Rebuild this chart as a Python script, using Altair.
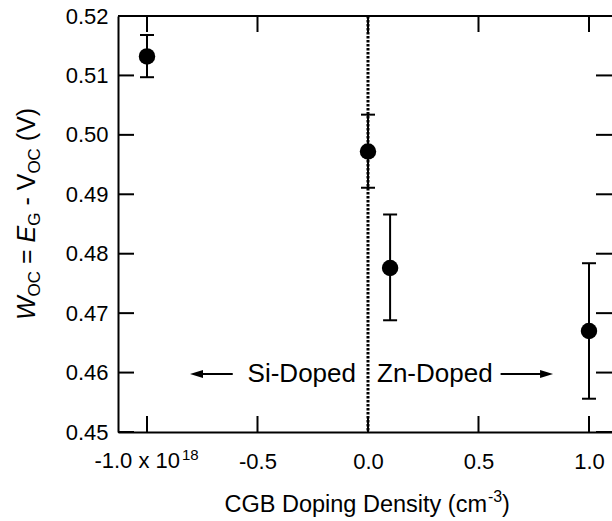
import altair as alt
import pandas as pd

# ---------------- data ----------------
x_density = [-1.0, 0.0, 0.1, 1.0]          # CGB doping density (x 1e18 cm^-3)
w_oc = [0.5132, 0.4972, 0.4776, 0.4670]     # W_OC (V)
w_oc_hi = [0.5168, 0.5034, 0.4866, 0.4784]  # upper error
w_oc_lo = [0.5097, 0.4911, 0.4688, 0.4556]  # lower error
x_ticks = [-1.0, -0.5, 0.0, 0.5, 1.0]
y_ticks = [0.45, 0.46, 0.47, 0.48, 0.49, 0.50, 0.51, 0.52]
first_x_label = ["-1.0 x 10", "18"]
x_title_parts = ["CGB Doping Density (cm", "-3", ")"]
annot_left = ["Si-Doped"]
annot_right = ["Zn-Doped"]

# ---------------- layout ----------------
W, H = 494, 416
XMIN, XMAX = -1.1312, 1.1041
FONT = "Liberation Sans"
TICK_FS = 22
SUB_FS = 16

df = pd.DataFrame({"x": x_density, "y": w_oc, "hi": w_oc_hi, "lo": w_oc_lo})
xs = alt.Scale(domain=[XMIN, XMAX], nice=False, zero=False)
ys = alt.Scale(domain=[0.45, 0.52], nice=False, zero=False)

x_axis = alt.Axis(values=x_ticks,
                  labelExpr="datum.value == -1 ? '' : (datum.value < 0 ? '-' : '') + format(abs(datum.value), '.1f')",
                  ticks=False, grid=False, domain=True, domainColor="black", domainWidth=2,
                  labelFontSize=TICK_FS, labelFont=FONT, labelColor="black",
                  labelBaseline="alphabetic", labelPadding=36, labelFlush=False,
                  labelOverlap=False, title=None)
y_axis = alt.Axis(values=y_ticks, format=".2f",
                  ticks=False, grid=False, domain=True, domainColor="black", domainWidth=2,
                  labelFontSize=TICK_FS, labelFont=FONT, labelColor="black",
                  labelPadding=10, labelFlush=False, labelOverlap=False, title=None)

def X(f):
    return alt.X(f, scale=xs, axis=x_axis, title=None)

def Y(f):
    return alt.Y(f, scale=ys, axis=y_axis, title=None)

base = alt.Chart(df)

points = base.mark_circle(size=270, color="black", opacity=1).encode(x=X("x:Q"), y=Y("y:Q"))
err = base.mark_rule(color="black", strokeWidth=2).encode(x=X("x:Q"), y=Y("lo:Q"), y2="hi:Q")
cap_hi = base.mark_tick(orient="horizontal", size=14, thickness=2, color="black", opacity=1).encode(
    x=X("x:Q"), y=Y("hi:Q"))
cap_lo = base.mark_tick(orient="horizontal", size=14, thickness=2, color="black", opacity=1).encode(
    x=X("x:Q"), y=Y("lo:Q"))

zero_df = pd.DataFrame({"x": [0.0]})
dotted = alt.Chart(zero_df).mark_rule(color="black", strokeWidth=3, strokeDash=[2.5, 1.5]).encode(
    x=X("x:Q"), y=alt.value(0), y2=alt.value(H))

# frame: top border + inward ticks
dummy = pd.DataFrame({"d": [0]})
top_border = alt.Chart(dummy).mark_rule(color="black", strokeWidth=2).encode(
    x=alt.value(0), x2=alt.value(W), y=alt.value(0))
xt = alt.Chart(pd.DataFrame({"t": x_ticks}))
yt = alt.Chart(pd.DataFrame({"t": y_ticks}))
xtick_bot = xt.mark_tick(orient="vertical", size=16, thickness=2, color="black", opacity=1).encode(
    x=X("t:Q"), y=alt.value(H - 8))
xtick_top = xt.mark_tick(orient="vertical", size=16, thickness=2, color="black", opacity=1).encode(
    x=X("t:Q"), y=alt.value(8))
ytick_l = yt.mark_tick(orient="horizontal", size=16, thickness=2, color="black", opacity=1).encode(
    y=Y("t:Q"), x=alt.value(8))
ytick_r = yt.mark_tick(orient="horizontal", size=16, thickness=2, color="black", opacity=1).encode(
    y=Y("t:Q"), x=alt.value(W - 8))

# first x label with superscript
lab_main = alt.Chart(pd.DataFrame({"t": [first_x_label[0]]})).mark_text(
    font=FONT, fontSize=TICK_FS, align="right", baseline="alphabetic", color="black").encode(
    text="t:N", x=alt.value(62), y=alt.value(H + 36))
lab_sup = alt.Chart(pd.DataFrame({"t": [first_x_label[1]]})).mark_text(
    font=FONT, fontSize=15, align="left", baseline="alphabetic", color="black").encode(
    text="t:N", x=alt.value(64), y=alt.value(H + 28))

# x title
xt_main = alt.Chart(pd.DataFrame({"t": [x_title_parts[0]]})).mark_text(
    font=FONT, fontSize=23.5, align="right", baseline="alphabetic", color="black").encode(
    text="t:N", x=alt.value(369), y=alt.value(496))
xt_sup = alt.Chart(pd.DataFrame({"t": [x_title_parts[1]]})).mark_text(
    font=FONT, fontSize=SUB_FS, align="left", baseline="alphabetic", color="black").encode(
    text="t:N", x=alt.value(370), y=alt.value(486))
xt_end = alt.Chart(pd.DataFrame({"t": [x_title_parts[2]]})).mark_text(
    font=FONT, fontSize=23.5, align="left", baseline="alphabetic", color="black").encode(
    text="t:N", x=alt.value(384), y=alt.value(496))

# y title, rotated, built from segments
AW = {" ": 278, "=": 584, "-": 333, "(": 333, ")": 333, "W": 944, "O": 778,
      "C": 722, "E": 667, "G": 778, "V": 667}
def tw(s, fs):
    return sum(AW[c] for c in s) * fs / 1000.0

YFS, YSUB = 25, 17
segments = [("W", YFS, True, 0), ("OC", YSUB, False, 5), (" ", YFS, False, 0),
            ("=", YFS, False, 0), (" ", YFS, False, 0), ("E", YFS, True, 0),
            ("G", YSUB, False, 5), (" ", YFS, False, 0), ("-", YFS, False, 0),
            (" ", YFS, False, 0), ("V", YFS, False, 0), ("OC", YSUB, False, 5),
            (" ", YFS, False, 0), ("(V)", YFS, False, 0)]
ytitle_layers = []
ypos = 304.0
YT_X = -83
for text, fs, ital, shift in segments:
    if text.strip():
        ytitle_layers.append(
            alt.Chart(pd.DataFrame({"t": [text]})).mark_text(
                font=FONT, fontSize=fs, fontStyle="italic" if ital else "normal",
                align="left", baseline="alphabetic", angle=270, color="black").encode(
                text="t:N", x=alt.value(YT_X + shift), y=alt.value(ypos)))
    ypos -= tw(text, fs)

# annotations
ANN_FS = 26
ann_y = 366
arrow_y = 358
ann_l = alt.Chart(pd.DataFrame({"x": [0.0], "t": annot_left})).mark_text(
    font=FONT, fontSize=ANN_FS, align="right", baseline="alphabetic", dx=-12, color="black").encode(
    text="t:N", x=X("x:Q"), y=alt.value(ann_y))
ann_r = alt.Chart(pd.DataFrame({"x": [0.0], "t": annot_right})).mark_text(
    font=FONT, fontSize=ANN_FS, align="left", baseline="alphabetic", dx=9, color="black").encode(
    text="t:N", x=X("x:Q"), y=alt.value(ann_y))

arrows = pd.DataFrame({"a": [-0.776, 0.808], "b": [-0.612, 0.600]})
arrow_lines = alt.Chart(arrows).mark_rule(color="black", strokeWidth=2).encode(
    x=X("a:Q"), x2="b:Q", y=alt.value(arrow_y))
heads = pd.DataFrame({"x": [-0.776, 0.808],
                      "s": ["M-1,0L1,-0.62L1,0.62Z", "M1,0L-1,-0.62L-1,0.62Z"]})
arrow_heads = alt.Chart(heads).mark_point(filled=True, size=169, color="black", opacity=1,
                                          strokeWidth=0).encode(
    x=X("x:Q"), y=alt.value(arrow_y),
    shape=alt.Shape("s:N", scale=None, legend=None))

chart = alt.layer(
    points, dotted, err, cap_hi, cap_lo, top_border,
    xtick_bot, xtick_top, ytick_l, ytick_r,
    lab_main, lab_sup, xt_main, xt_sup, xt_end,
    ann_l, ann_r, arrow_lines, arrow_heads,
    *ytitle_layers,
).properties(
    width=W, height=H,
    autosize=alt.AutoSizeParams(type="none"),
    padding={"left": 118, "top": 16, "right": 0, "bottom": 89},
).configure_view(stroke=None)

chart.save("out.html", embed_options={"renderer": "svg", "actions": False})
